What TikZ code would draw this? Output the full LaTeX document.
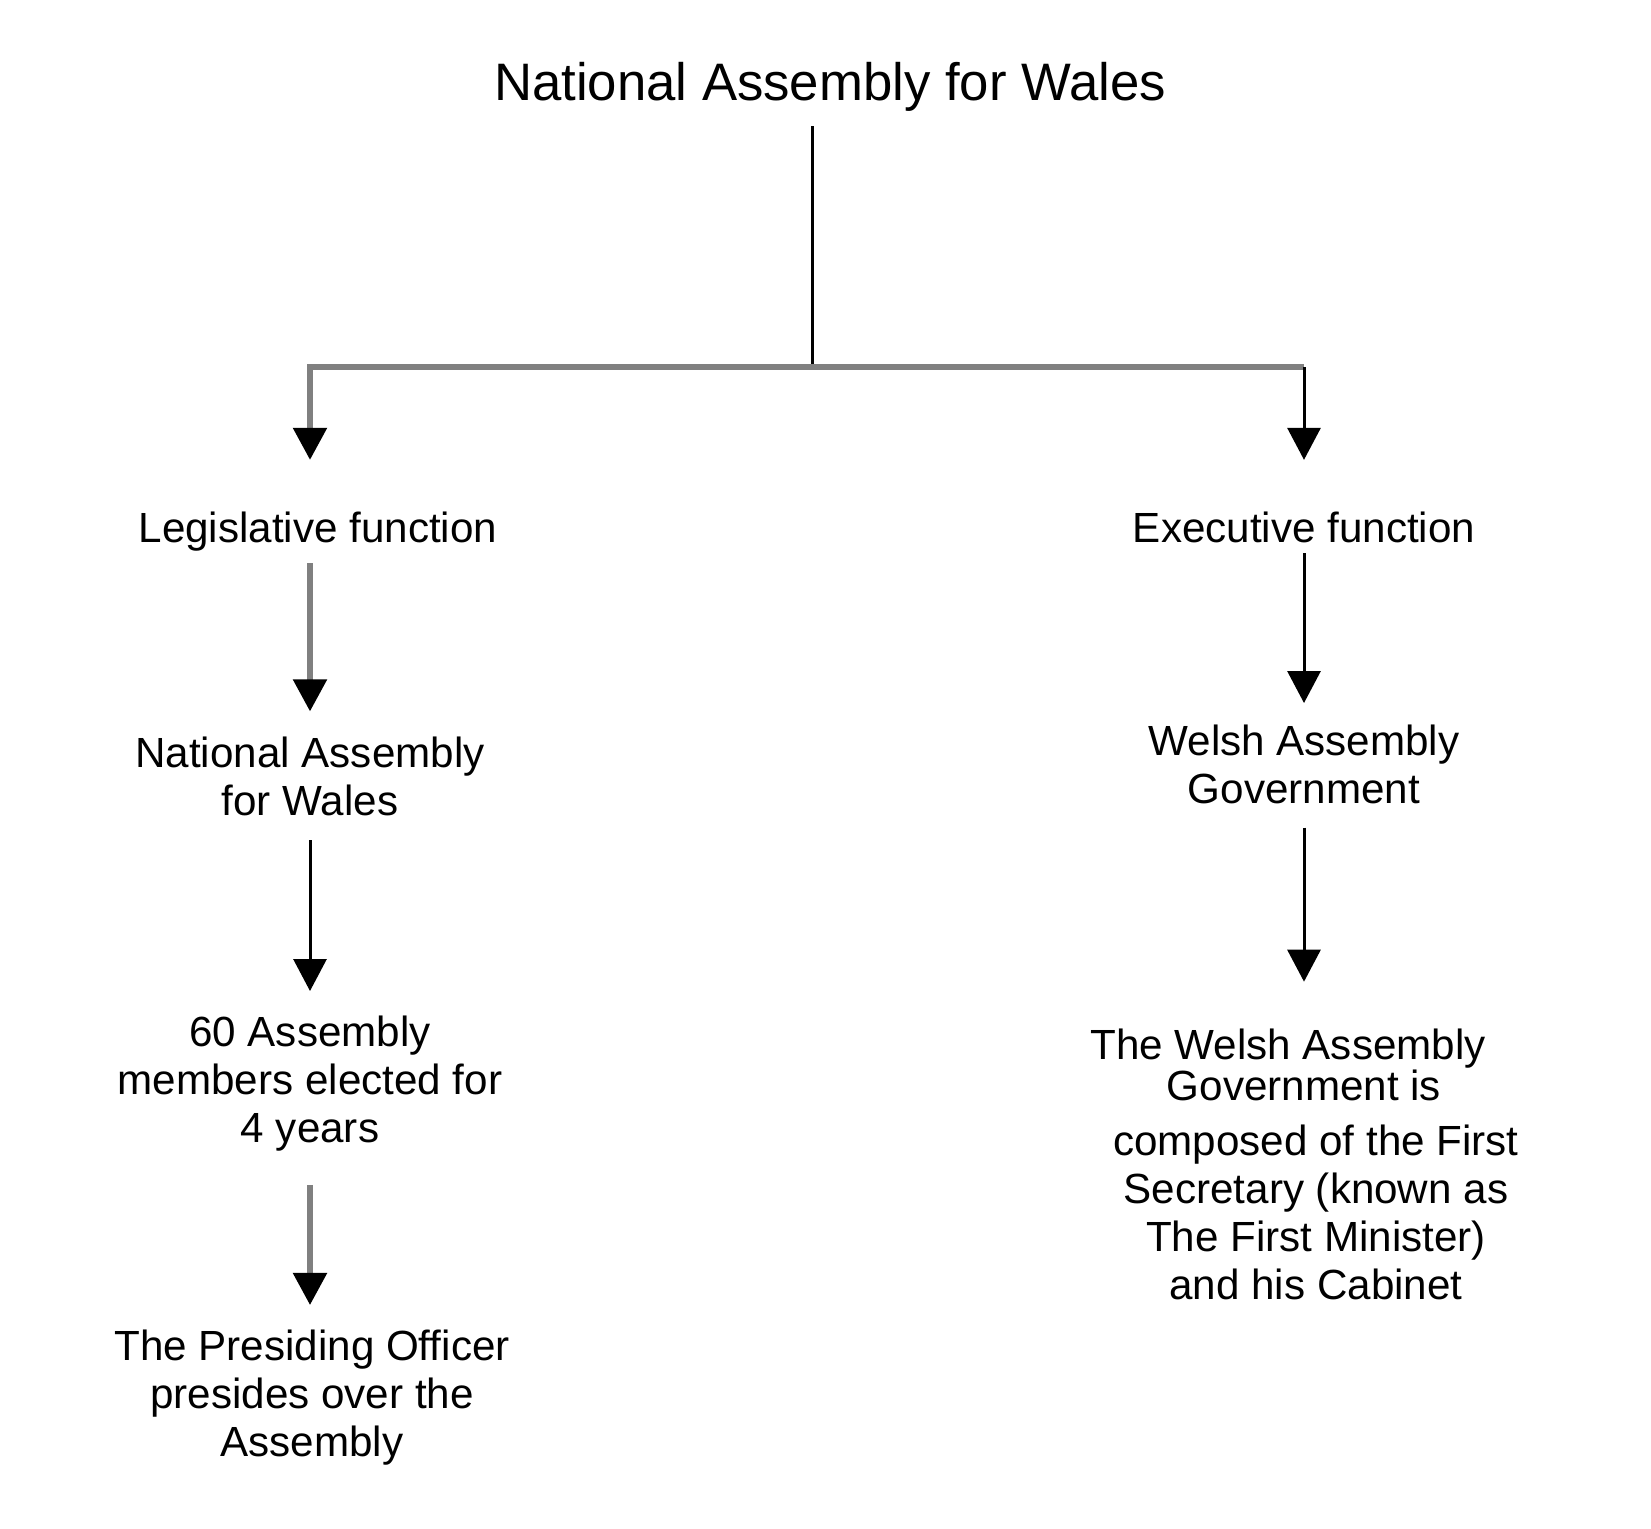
\documentclass[tikz,border=0pt]{standalone}
\usepackage{fontspec}
\setmainfont{Liberation Sans}
\usetikzlibrary{positioning,arrows.meta}
\newcommand{\labelfont}{\fontsize{24pt}{27.3pt}\selectfont}
\newcommand{\headfont}{\fontsize{30pt}{36pt}\selectfont}
\tikzset{
  stage/.style={inner sep=0pt, align=center, font=\labelfont},
  link/.style={line width=0.06cm, -{Triangle[width=0.66cm,length=0.64cm]}},
  greylink/.style={draw=black!50, line width=0.11cm, -{Triangle[width=0.66cm,length=0.64cm,color=black]}},
}

\begin{document}
\begin{tikzpicture}
  \useasboundingbox (0,0) rectangle (33.02,-30.56);
  \node [anchor=north,inner sep=0pt,font=\headfont] (title) at (16.6,-1.23) {National Assembly for Wales};
  \coordinate (fork) at (16.24,-7.34);

  % legislative side
  \node [stage,below=8cm of title,xshift=-10.24cm] (leg) {Legislative function};
  \node [stage,below=3.7cm of leg,xshift=-0.16cm] (nafw) {National Assembly\\for Wales};
  \node [stage,below=4cm of nafw] (members) {60 Assembly\\members elected for\\4 years};
  \node [stage,below=3.56cm of members,xshift=0.04cm] (presiding) {The Presiding Officer\\presides over the\\Assembly};

  % executive side
  \node [stage,below=8cm of title,xshift=9.48cm] (exec) {Executive function};
  \node [stage,below=3.64cm of exec] (wag) {Welsh Assembly\\Government};
  \node [stage,below=4.48cm of wag,xshift=0.24cm] (cabinet) {The Welsh Assembly\rule{1.12cm}{0pt}\\[-0.14cm]Government is\rule{0.48cm}{0pt}\\[0.14cm]composed of the First\\Secretary (known as\\The First Minister)\\and his Cabinet};

  \draw [line width=0.06cm,shorten <=0.3cm] (title.south -| fork) -- (fork);
  \draw [greylink,shorten >=1.03cm] (fork -| exec) -- (fork -| nafw) -- (leg.north -| nafw);
  \draw [link,shorten >=1.03cm] (fork -| exec) -- (exec.north);

  \draw [greylink,shorten <=0.24cm,shorten >=0.5cm] (leg.south -| nafw) -- (nafw.north);
  \draw [link,shorten <=0.48cm,shorten >=0.5cm] (nafw.south) -- (nafw.south |- members.north);
  \draw [greylink,shorten <=0.66cm,shorten >=0.5cm] (members.south -| nafw) -- (presiding.north -| nafw);

  \draw [link,shorten <=0.2cm,shorten >=0.44cm] (exec.south) -- (wag.north);
  \draw [link,shorten <=0.46cm,shorten >=0.94cm] (wag.south) -- (wag.south |- cabinet.north);
\end{tikzpicture}
\end{document}
